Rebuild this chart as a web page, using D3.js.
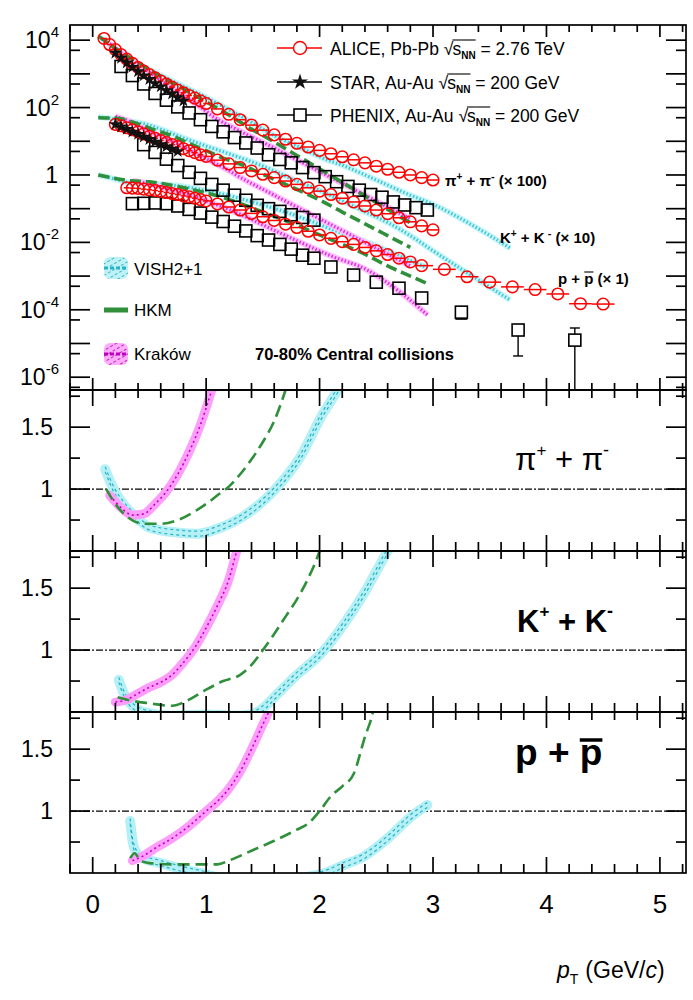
<!DOCTYPE html>
<html>
<head>
<meta charset="utf-8">
<script src="https://cdnjs.cloudflare.com/ajax/libs/d3/7.8.5/d3.min.js"></script>
<style>
  body { margin: 0; background: #fff; }
  svg { font-family: "Liberation Sans", Arial, sans-serif; }
</style>
</head>
<body>
<svg id="chart" width="693" height="1000"></svg>
<script>
// ---- data: [pT (GeV/c), log10(yield)] for the spectra ----
// ALICE Pb-Pb 2.76 TeV (pi x100, K x10, p x1)
const alicePi = [[0.10,4.05],[0.15,3.87],[0.20,3.72],[0.25,3.57],[0.30,3.44],[0.35,3.31],[0.40,3.19],[0.45,3.08],[0.50,2.98],[0.55,2.88],[0.60,2.79],[0.65,2.70],[0.70,2.61],[0.75,2.52],[0.80,2.44],[0.85,2.36],[0.90,2.28],[0.95,2.20],[1.00,2.12],[1.10,1.96],[1.20,1.80],[1.30,1.64],[1.40,1.48],[1.50,1.33],[1.60,1.19],[1.70,1.06],[1.80,0.94],[1.90,0.83],[2.00,0.73],[2.10,0.63],[2.20,0.54],[2.30,0.45],[2.40,0.36],[2.50,0.26],[2.60,0.17],[2.70,0.08],[2.80,0.00],[2.90,-0.08],[3.00,-0.15]];
const aliceK = [[0.20,1.50],[0.25,1.46],[0.30,1.40],[0.35,1.34],[0.40,1.28],[0.45,1.22],[0.50,1.15],[0.55,1.09],[0.60,1.02],[0.65,0.96],[0.70,0.90],[0.75,0.84],[0.80,0.78],[0.85,0.72],[0.90,0.66],[0.95,0.60],[1.00,0.55],[1.10,0.44],[1.20,0.33],[1.30,0.22],[1.40,0.12],[1.50,0.02],[1.60,-0.08],[1.70,-0.18],[1.80,-0.28],[1.90,-0.38],[2.00,-0.48],[2.10,-0.58],[2.20,-0.69],[2.30,-0.80],[2.40,-0.92],[2.50,-1.04],[2.60,-1.15],[2.70,-1.27],[2.80,-1.39],[2.90,-1.51],[3.00,-1.63]];
const aliceP = [[0.30,-0.38],[0.35,-0.39],[0.40,-0.40],[0.45,-0.42],[0.50,-0.44],[0.55,-0.46],[0.60,-0.49],[0.65,-0.52],[0.70,-0.55],[0.75,-0.58],[0.80,-0.62],[0.85,-0.65],[0.90,-0.69],[0.95,-0.73],[1.00,-0.77],[1.10,-0.86],[1.20,-0.95],[1.30,-1.04],[1.40,-1.14],[1.50,-1.24],[1.60,-1.35],[1.70,-1.46],[1.80,-1.56],[1.90,-1.67],[2.00,-1.78],[2.10,-1.88],[2.20,-1.98],[2.30,-2.06],[2.40,-2.15],[2.50,-2.25],[2.60,-2.36],[2.70,-2.47],[2.80,-2.58],[2.90,-2.69],[3.10,-2.80],[3.30,-3.02],[3.50,-3.18],[3.70,-3.32],[3.90,-3.40],[4.10,-3.53],[4.30,-3.82],[4.50,-3.83]];
// STAR Au-Au 200 GeV
const starPi = [[0.20,3.62],[0.25,3.47],[0.30,3.33],[0.35,3.20],[0.40,3.07],[0.45,2.95],[0.50,2.84],[0.55,2.72],[0.60,2.62],[0.65,2.51],[0.70,2.41],[0.75,2.30],[0.80,2.20]];
const starK = [[0.20,1.50],[0.25,1.43],[0.30,1.36],[0.35,1.28],[0.40,1.21],[0.45,1.13],[0.50,1.06],[0.55,0.98],[0.60,0.91],[0.65,0.84],[0.70,0.77],[0.75,0.70]];
// PHENIX Au-Au 200 GeV
const phenixPi = [[0.25,3.22],[0.35,2.95],[0.45,2.70],[0.55,2.42],[0.65,2.22],[0.75,2.02],[0.85,1.84],[0.95,1.64],[1.05,1.44],[1.15,1.28],[1.25,1.11],[1.35,0.95],[1.45,0.80],[1.55,0.60],[1.65,0.46],[1.75,0.36],[1.85,0.22],[1.95,0.07],[2.05,-0.05],[2.15,-0.20],[2.25,-0.34],[2.35,-0.45],[2.45,-0.58],[2.55,-0.66],[2.65,-0.80],[2.75,-0.89],[2.85,-0.97],[2.95,-1.04]];
const phenixK = [[0.45,0.90],[0.55,0.67],[0.65,0.47],[0.75,0.28],[0.85,0.08],[0.95,-0.10],[1.05,-0.28],[1.15,-0.45],[1.25,-0.60],[1.35,-0.75],[1.45,-0.90],[1.55,-1.00],[1.65,-1.08],[1.75,-1.18],[1.85,-1.26],[1.95,-1.34]];
const phenixP = [[0.35,-0.85],[0.45,-0.84],[0.55,-0.83],[0.65,-0.85],[0.75,-0.92],[0.85,-1.02],[0.95,-1.13],[1.05,-1.25],[1.15,-1.38],[1.25,-1.52],[1.35,-1.66],[1.45,-1.80],[1.55,-1.93],[1.65,-2.06],[1.75,-2.20],[1.85,-2.38],[1.95,-2.47],[2.10,-2.73],[2.30,-2.97],[2.50,-3.18],[2.70,-3.36],[2.90,-3.65],[3.25,-4.07],[3.75,-4.60],[4.25,-4.90]];
// PHENIX p error bars [pT, log10 high, log10 low]
const phenixPErr = [[3.25,-4.02,-4.14],[3.75,-4.50,-5.37],[4.25,-4.54,-7.0]];

// model curves in the spectra panel [pT, log10(yield)]
const vishPi = [[0.05,4.10],[0.10,3.99],[0.20,3.71],[0.35,3.40],[0.50,3.13],[0.75,2.71],[0.95,2.39],[1.15,2.03],[1.35,1.66],[1.60,1.17],[1.85,0.78],[2.05,0.47],[2.20,0.29],[2.50,-0.15],[2.80,-0.60],[3.00,-0.87],[3.30,-1.40],[3.68,-2.17]];
const hkmPi = [[0.05,4.12],[0.20,3.76],[0.40,3.33],[0.60,2.92],[0.80,2.55],[1.00,2.17],[1.20,1.78],[1.40,1.36],[1.60,0.98],[1.80,0.58],[2.00,0.18],[2.20,-0.22],[2.40,-0.62],[2.60,-1.02],[2.80,-1.42]];
const krakowPi = [[0.15,3.90],[0.25,3.63],[0.35,3.40],[0.45,3.17],[0.55,2.93],[0.65,2.70],[0.75,2.46],[0.85,2.24],[0.95,2.02],[1.05,1.76],[1.30,1.30],[1.60,0.80],[2.00,0.10],[2.40,-0.60],[2.80,-1.30]];
const vishK = [[0.05,1.72],[0.15,1.68],[0.25,1.62],[0.35,1.58],[0.45,1.52],[0.60,1.36],[0.80,1.10],[1.00,0.86],[1.20,0.63],[1.45,0.33],[1.60,0.12],[1.80,-0.18],[2.00,-0.46],[2.20,-0.77],[2.40,-1.09],[2.60,-1.41],[2.80,-1.80],[3.00,-2.25],[3.30,-2.90],[3.68,-3.71]];
const hkmK = [[0.05,1.70],[0.22,1.68],[0.35,1.57],[0.50,1.39],[0.70,1.16],[0.85,0.94],[1.00,0.72],[1.15,0.50],[1.30,0.32],[1.50,0.02],[1.70,-0.28],[1.90,-0.58],[2.00,-0.74],[2.20,-1.10],[2.40,-1.45],[2.60,-1.80],[2.80,-2.15]];
const krakowK = [[0.20,1.74],[0.30,1.62],[0.40,1.47],[0.50,1.30],[0.60,1.15],[0.70,1.00],[0.80,0.83],[0.90,0.65],[1.00,0.48],[1.10,0.31],[1.20,0.13],[1.27,-0.01],[1.60,-0.60],[2.00,-1.30],[2.40,-2.00],[2.80,-2.70]];
const vishP = [[0.05,0.00],[0.15,-0.08],[0.25,-0.17],[0.35,-0.25],[0.50,-0.26],[0.70,-0.30],[0.90,-0.40],[1.10,-0.53],[1.30,-0.70],[1.50,-0.89],[1.70,-1.10],[1.90,-1.34],[2.10,-1.60],[2.30,-1.85],[2.50,-2.10],[2.70,-2.40],[2.95,-2.75]];
const hkmP = [[0.05,0.00],[0.33,-0.17],[0.50,-0.20],[0.70,-0.31],[0.90,-0.45],[1.10,-0.62],[1.40,-0.97],[1.60,-1.23],[1.80,-1.49],[2.00,-1.78],[2.20,-2.06],[2.40,-2.35],[2.60,-2.70],[2.80,-3.00],[2.95,-3.22]];
const krakowP = [[0.35,-0.17],[0.45,-0.23],[0.55,-0.31],[0.70,-0.44],[0.85,-0.59],[1.00,-0.77],[1.20,-1.02],[1.40,-1.32],[1.55,-1.56],[1.80,-1.95],[2.10,-2.40],[2.42,-2.82],[2.70,-3.45],[2.95,-4.15]];

// ratio panels [pT, ratio]
const vishPiR = [[0.11,1.16],[0.15,1.07],[0.19,0.99],[0.27,0.88],[0.35,0.80],[0.50,0.69],[0.74,0.65],[0.93,0.64],[1.13,0.69],[1.36,0.80],[1.60,0.99],[1.83,1.26],[2.03,1.61],[2.16,1.80],[2.25,1.95]];
const hkmPiR = [[0.12,1.00],[0.20,0.88],[0.30,0.78],[0.45,0.72],[0.60,0.72],[0.75,0.75],[0.90,0.82],[1.00,0.88],[1.10,0.95],[1.20,1.02],[1.30,1.12],[1.40,1.24],[1.50,1.38],[1.60,1.55],[1.70,1.80],[1.75,1.95]];
const krakowPiR = [[0.15,0.95],[0.25,0.85],[0.35,0.79],[0.45,0.80],[0.55,0.88],[0.65,0.98],[0.75,1.12],[0.85,1.30],[0.95,1.52],[1.05,1.80],[1.10,1.95]];
const vishKR = [[0.23,0.76],[0.27,0.66],[0.32,0.58],[0.38,0.53],[0.45,0.50],[0.70,0.47],[1.00,0.48],[1.25,0.47],[1.40,0.48],[1.50,0.53],[1.60,0.62],[1.80,0.80],[2.00,0.96],[2.20,1.19],[2.40,1.47],[2.60,1.80],[2.70,1.95]];
const hkmKR = [[0.22,0.62],[0.35,0.59],[0.50,0.57],[0.70,0.55],[0.85,0.60],[1.00,0.68],[1.15,0.75],[1.30,0.80],[1.40,0.88],[1.50,1.00],[1.60,1.13],[1.70,1.27],[1.80,1.41],[1.90,1.58],[2.00,1.80],[2.05,1.95]];
const krakowKR = [[0.20,0.58],[0.30,0.60],[0.40,0.65],[0.50,0.70],[0.60,0.74],[0.70,0.80],[0.80,0.90],[0.90,1.02],[1.00,1.18],[1.10,1.36],[1.20,1.57],[1.27,1.80],[1.32,1.95]];
const vishPR = [[0.33,0.92],[0.36,0.72],[0.42,0.63],[0.60,0.58],[0.80,0.53],[0.95,0.50],[1.20,0.45],[1.60,0.43],[1.90,0.47],[2.05,0.50],[2.20,0.56],[2.40,0.64],[2.60,0.78],[2.80,0.95],[2.95,1.05]];
const hkmPR = [[0.33,0.62],[0.37,0.66],[0.42,0.60],[0.50,0.58],[0.70,0.57],[0.90,0.57],[1.10,0.57],[1.20,0.60],[1.40,0.68],[1.60,0.76],[1.80,0.85],[1.90,0.90],[2.00,1.00],[2.10,1.12],[2.20,1.20],[2.30,1.30],[2.40,1.60],[2.47,1.80],[2.50,1.95]];
const krakowPR = [[0.35,0.60],[0.45,0.64],[0.55,0.70],[0.70,0.78],[0.85,0.88],[1.00,1.00],[1.10,1.08],[1.20,1.18],[1.30,1.32],[1.40,1.50],[1.50,1.70],[1.55,1.80],[1.60,1.95]];

const xTickLabels = ["0", "1", "2", "3", "4", "5"];
const specDecadeLabels = [4, 2, 0, -2, -4, -6];
const ratioTickLabels = ["1", "1.5"];

// ---- layout ----
const svg = d3.select("#chart");
const L = 70, R = 686;
const topY0 = 25, topY1 = 390;
const edges = [390, 551, 712, 873];

const x = d3.scaleLinear().domain([-0.2, 5.23]).range([L, R]);
const ySpec = d3.scaleLog().domain([Math.pow(10, -6.38), Math.pow(10, 4.45)]).range([topY1, topY0]);
const yRatio = edges.slice(0, 3).map((e, i) =>
  d3.scaleLinear().domain([0.5, 1.8]).range([edges[i + 1], e]));

const defs = svg.append("defs");
defs.append("clipPath").attr("id", "clipTop").append("rect")
  .attr("x", L).attr("y", topY0).attr("width", R - L).attr("height", topY1 - topY0);
for (let i = 0; i < 3; i++) {
  defs.append("clipPath").attr("id", "clipR" + i).append("rect")
    .attr("x", L).attr("y", edges[i]).attr("width", R - L).attr("height", edges[i + 1] - edges[i]);
}
// hatch patterns for the legend boxes
function hatch(id, col) {
  const p = defs.append("pattern").attr("id", id).attr("patternUnits", "userSpaceOnUse")
    .attr("width", 5).attr("height", 5).attr("patternTransform", "rotate(60)");
  p.append("line").attr("x1", 0).attr("y1", 0).attr("x2", 0).attr("y2", 3)
    .attr("stroke", col).attr("stroke-width", 1.6);
}
hatch("hCyan", "#1fa8bb");
hatch("hMag", "#b000b0");

const cyanLight = "#b4f0f5", cyanDark = "#26b3c4";
const magLight = "#ff9dfc", magDark = "#c000c0";
const green = "#2f8f3a";

// ---- spectra panel ----
const gTop = svg.append("g").attr("clip-path", "url(#clipTop)");
const specLine = d3.line().x(d => x(d[0])).y(d => ySpec(Math.pow(10, d[1]))).curve(d3.curveMonotoneX);

function vishSpec(data) {
  gTop.append("path").attr("d", specLine(data)).attr("fill", "none")
    .attr("stroke", "#c9f5f8").attr("stroke-width", 6);
  gTop.append("path").attr("d", specLine(data)).attr("fill", "none")
    .attr("stroke", "#3cc6d6").attr("stroke-width", 3.2).attr("stroke-dasharray", "1.5,2");
}
function krakowSpec(data) {
  gTop.append("path").attr("d", specLine(data)).attr("fill", "none")
    .attr("stroke", "#ffc2fd").attr("stroke-width", 6);
  gTop.append("path").attr("d", specLine(data)).attr("fill", "none")
    .attr("stroke", "#e02ee0").attr("stroke-width", 3.2).attr("stroke-dasharray", "1.5,2");
}
function hkmSpec(data) {
  gTop.append("path").attr("d", specLine(data)).attr("fill", "none")
    .attr("stroke", green).attr("stroke-width", 3.6).attr("stroke-dasharray", "11,5");
}
[vishPi, vishK, vishP].forEach(vishSpec);
[krakowPi, krakowK, krakowP].forEach(krakowSpec);
[hkmPi, hkmK, hkmP].forEach(hkmSpec);

// PHENIX squares
function phenix(data) {
  gTop.append("g").selectAll("rect").data(data).join("rect")
    .attr("x", d => x(d[0]) - 6).attr("y", d => ySpec(Math.pow(10, d[1])) - 6)
    .attr("width", 12).attr("height", 12)
    .attr("fill", "none").attr("stroke", "#000").attr("stroke-width", 1.6);
}
[phenixPi, phenixK, phenixP].forEach(phenix);
const errG = gTop.append("g").attr("stroke", "#000").attr("stroke-width", 1.4);
phenixPErr.forEach(d => {
  const xx = x(d[0]), yHi = ySpec(Math.pow(10, d[1])), yLo = ySpec(Math.pow(10, d[2]));
  const yc = ySpec(Math.pow(10, phenixP.find(p => p[0] === d[0])[1]));
  if (yHi < yc - 6) {
    errG.append("line").attr("x1", xx).attr("x2", xx).attr("y1", yHi).attr("y2", yc - 6);
    errG.append("line").attr("x1", xx - 5).attr("x2", xx + 5).attr("y1", yHi).attr("y2", yHi);
  }
  if (yLo > yc + 6) {
    errG.append("line").attr("x1", xx).attr("x2", xx).attr("y1", yc + 6).attr("y2", yLo);
    errG.append("line").attr("x1", xx - 5).attr("x2", xx + 5).attr("y1", yLo).attr("y2", yLo);
  } else {
    errG.append("line").attr("x1", xx - 6).attr("x2", xx + 6).attr("y1", yc + 7).attr("y2", yc + 7);
  }
});

// ALICE circles with bin-width bars
function alice(data) {
  const g = gTop.append("g").attr("stroke", "#ff0000").attr("stroke-width", 1.5).attr("fill", "none");
  data.forEach((d, i) => {
    const prev = i > 0 ? d[0] - data[i - 1][0] : data[1][0] - data[0][0];
    const next = i < data.length - 1 ? data[i + 1][0] - d[0] : prev;
    const yy = ySpec(Math.pow(10, d[1]));
    g.append("line").attr("x1", x(d[0] - prev / 2)).attr("x2", x(d[0] + next / 2))
      .attr("y1", yy).attr("y2", yy);
    g.append("circle").attr("cx", x(d[0])).attr("cy", yy).attr("r", 5.8);
  });
}
[alicePi, aliceK, aliceP].forEach(alice);

// STAR stars
const star = d3.symbol().type(d3.symbolStar).size(55);
function starPts(data) {
  gTop.append("g").selectAll("path").data(data).join("path")
    .attr("d", star)
    .attr("transform", d => `translate(${x(d[0])},${ySpec(Math.pow(10, d[1]))})`)
    .attr("fill", "#111");
}
[starPi, starK].forEach(starPts);

// ---- ratio panels ----
const ratioSets = [
  { vish: vishPiR, hkm: hkmPiR, krakow: krakowPiR },
  { vish: vishKR, hkm: hkmKR, krakow: krakowKR },
  { vish: vishPR, hkm: hkmPR, krakow: krakowPR }
];
ratioSets.forEach((s, i) => {
  const y = yRatio[i];
  const g = svg.append("g").attr("clip-path", "url(#clipR" + i + ")");
  const line = d3.line().x(d => x(d[0])).y(d => y(d[1])).curve(d3.curveMonotoneX);
  // unity line
  g.append("line").attr("x1", L).attr("x2", R).attr("y1", y(1)).attr("y2", y(1))
    .attr("stroke", "#000").attr("stroke-width", 1.1).attr("stroke-dasharray", "7,2,2,2");
  // VISH band
  g.append("path").attr("d", line(s.vish)).attr("fill", "none")
    .attr("stroke", cyanLight).attr("stroke-width", 10).attr("stroke-linecap", "round");
  [-2.5, 2.5].forEach(off => {
    g.append("path").attr("d", line(s.vish)).attr("transform", `translate(0,${off})`)
      .attr("fill", "none").attr("stroke", cyanDark).attr("stroke-width", 1.2)
      .attr("stroke-dasharray", "3,3");
  });
  // Krakow band
  g.append("path").attr("d", line(s.krakow)).attr("fill", "none")
    .attr("stroke", magLight).attr("stroke-width", 9).attr("stroke-linecap", "round");
  g.append("path").attr("d", line(s.krakow)).attr("fill", "none")
    .attr("stroke", magDark).attr("stroke-width", 1.6).attr("stroke-dasharray", "2,3");
  // HKM
  g.append("path").attr("d", line(s.hkm)).attr("fill", "none")
    .attr("stroke", green).attr("stroke-width", 2.6).attr("stroke-dasharray", "12,6");
});

// ---- frames and ticks ----
const axG = svg.append("g").attr("stroke", "#000").attr("stroke-width", 1.7);
function xTicks(yEdge, dir, major, minor) {
  for (let k = -1; k <= 26; k++) {
    const v = k / 5;
    if (v < -0.2 || v > 5.23) continue;
    const len = (k % 5 === 0) ? major : minor;
    axG.append("line").attr("x1", x(v)).attr("x2", x(v))
      .attr("y1", yEdge).attr("y2", yEdge + dir * len);
  }
}
function yTick(yy, len) {
  axG.append("line").attr("x1", L).attr("x2", L + len).attr("y1", yy).attr("y2", yy);
  axG.append("line").attr("x1", R).attr("x2", R - len).attr("y1", yy).attr("y2", yy);
}
function box(y0, y1) {
  axG.append("rect").attr("x", L).attr("y", y0).attr("width", R - L).attr("height", y1 - y0)
    .attr("fill", "none");
}
box(topY0, topY1);
xTicks(topY0, 1, 12, 7);
xTicks(topY1, -1, 12, 7);
for (let n = -7; n <= 4; n++) {
  const v1 = Math.pow(10, n), v5 = 5 * Math.pow(10, n);
  if (v1 >= ySpec.domain()[0] && v1 <= ySpec.domain()[1]) yTick(ySpec(v1), 20);
  if (v5 >= ySpec.domain()[0] && v5 <= ySpec.domain()[1]) yTick(ySpec(v5), 10);
}
for (let i = 0; i < 3; i++) {
  box(edges[i], edges[i + 1]);
  xTicks(edges[i], 1, 16, 8);
  xTicks(edges[i + 1], -1, 16, 9);
  [1, 1.5].forEach(v => yTick(yRatio[i](v), 20));
  [0.75, 1.25, 1.75].forEach(v => yTick(yRatio[i](v), 10));
}

// ---- text helper: runs of text placed one after another ----
function rich(x0, y0, parts, opt = {}) {
  const g = svg.append("g");
  let cx = 0;
  const overs = [];
  parts.forEach(p => {
    const fs = p.fs || opt.fs || 17;
    const t = g.append("text").attr("x", cx).attr("y", p.dy || 0)
      .attr("font-size", fs)
      .attr("font-weight", p.fw || opt.fw || "normal")
      .attr("font-style", p.it ? "italic" : "normal")
      .attr("fill", "#000")
      .text(p.t.replace(/ /g, "\u00A0"));
    const w = t.node().getComputedTextLength();
    if (p.over !== undefined) overs.push([cx, cx + w, -p.over]);
    cx += w + (p.kern || 0);
  });
  overs.forEach(o => g.append("line").attr("x1", o[0]).attr("x2", o[1]).attr("y1", o[2]).attr("y2", o[2])
    .attr("stroke", "#000").attr("stroke-width", opt.ow || 1.1));
  const shift = opt.anchor === "end" ? -cx : opt.anchor === "middle" ? -cx / 2 : 0;
  g.attr("transform", `translate(${x0 + shift},${y0})`);
}

// tick labels
xTickLabels.forEach((t, i) => {
  svg.append("text").attr("x", x(i)).attr("y", 913).attr("text-anchor", "middle")
    .attr("font-size", 26).text(t);
});
specDecadeLabels.forEach(n => {
  const yy = ySpec(Math.pow(10, n)) + 8;
  if (n === 0) {
    svg.append("text").attr("x", 58).attr("y", yy).attr("text-anchor", "end")
      .attr("font-size", 23).text("1");
  } else {
    rich(59, yy, [{ t: "10", fs: 23 }, { t: String(n), fs: 15, dy: -11 }], { anchor: "end" });
  }
});
for (let i = 0; i < 3; i++) {
  ratioTickLabels.forEach(t => {
    svg.append("text").attr("x", 53).attr("y", yRatio[i](+t) + 8).attr("text-anchor", "end")
      .attr("font-size", 23).text(t);
  });
}

// axis title
rich(557, 978, [
  { t: "p", it: true, fs: 23 }, { t: "T", fs: 14, dy: 6, kern: 7 },
  { t: "(GeV/", fs: 23 }, { t: "c", it: true, fs: 23 }, { t: ")", fs: 23 }
]);

// data legend
const legRows = [
  { y: 48, name: "ALICE, Pb-Pb ", energy: " = 2.76 TeV", mark: "circle" },
  { y: 82, name: "STAR, Au-Au ", energy: " = 200 GeV", mark: "star" },
  { y: 115, name: "PHENIX, Au-Au ", energy: " = 200 GeV", mark: "square" }
];
legRows.forEach(r => {
  const col = r.mark === "circle" ? "#ff0000" : "#000";
  svg.append("line").attr("x1", 277).attr("x2", 322).attr("y1", r.y).attr("y2", r.y)
    .attr("stroke", col).attr("stroke-width", 1.4);
  if (r.mark === "circle") {
    svg.append("circle").attr("cx", 300).attr("cy", r.y).attr("r", 6.5).attr("fill", "#fff")
      .attr("stroke", col).attr("stroke-width", 1.4);
  } else if (r.mark === "star") {
    svg.append("path").attr("d", d3.symbol().type(d3.symbolStar).size(80)())
      .attr("transform", `translate(300,${r.y})`).attr("fill", "#111");
  } else {
    svg.append("rect").attr("x", 294).attr("y", r.y - 6).attr("width", 12).attr("height", 12)
      .attr("fill", "#fff").attr("stroke", "#000").attr("stroke-width", 1.6);
  }
  rich(330, r.y + 7, [
    { t: r.name }, { t: "\u221A", kern: -1 }, { t: "s", over: 15 },
    { t: "NN", fs: 10, fw: "bold", dy: 4, over: 15 }, { t: r.energy }
  ], { fs: 17.5 });
});

// species labels in the spectra panel
rich(445, 186, [
  { t: "\u03C0" }, { t: "+", fs: 10, dy: -6 }, { t: " + \u03C0" }, { t: "-", fs: 11, dy: -6 },
  { t: " (\u00D7 100)" }
], { fs: 15, fw: "bold" });
rich(500, 243, [
  { t: "K" }, { t: "+", fs: 10, dy: -6 }, { t: " + K" }, { t: " -", fs: 11, dy: -6 },
  { t: " (\u00D7 10)" }
], { fs: 15, fw: "bold" });
rich(558, 284, [
  { t: "p + " }, { t: "p", over: 12 }, { t: " (\u00D7 1)" }
], { fs: 15, fw: "bold" });
svg.append("text").attr("x", 255).attr("y", 360).attr("font-size", 16.5)
  .attr("font-weight", "bold").text("70-80% Central collisions");

// model legend
function bandSym(y, light, pat, dark) {
  svg.append("rect").attr("x", 104).attr("y", y - 11).attr("width", 24).attr("height", 22)
    .attr("rx", 6).attr("fill", light).attr("opacity", 0.85);
  svg.append("rect").attr("x", 104).attr("y", y - 11).attr("width", 24).attr("height", 22)
    .attr("rx", 6).attr("fill", `url(#${pat})`);
  svg.append("line").attr("x1", 104).attr("x2", 128).attr("y1", y).attr("y2", y)
    .attr("stroke", dark).attr("stroke-width", 3).attr("stroke-dasharray", "4,2");
}
bandSym(268, cyanLight, "hCyan", cyanDark);
svg.append("line").attr("x1", 104).attr("x2", 128).attr("y1", 310).attr("y2", 310)
  .attr("stroke", green).attr("stroke-width", 5);
bandSym(354, magLight, "hMag", magDark);
[["VISH2+1", 275], ["HKM", 316], ["Krak\u00F3w", 360]].forEach(d => {
  svg.append("text").attr("x", 134).attr("y", d[1]).attr("font-size", 17).text(d[0]);
});

// species labels in ratio panels
rich(515, 470, [
  { t: "\u03C0" }, { t: "+", fs: 17, dy: -14 }, { t: " + \u03C0" }, { t: "-", fs: 18, dy: -14 }
], { fs: 31 });
rich(517, 632, [
  { t: "K" }, { t: "+", fs: 17, dy: -15 }, { t: " + K" }, { t: "-", fs: 18, dy: -15 }
], { fs: 31, fw: "bold" });
rich(515, 765, [
  { t: "p + " }, { t: "p", over: 25 }
], { fs: 37, fw: "bold", ow: 3.5 });
</script>
</body>
</html>
